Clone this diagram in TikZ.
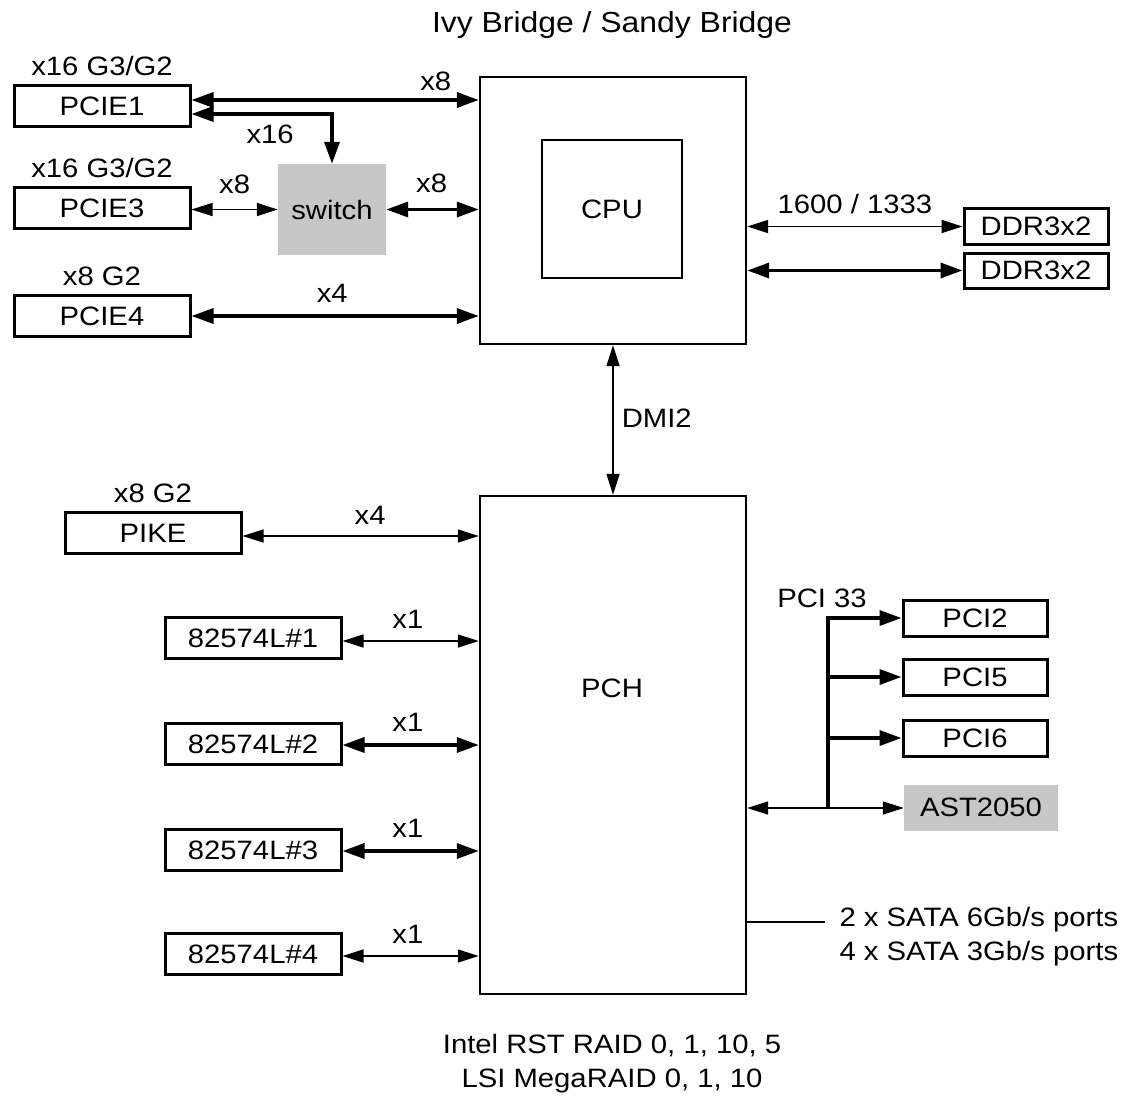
\documentclass[tikz,border=0pt]{standalone}
\usepackage{fontspec}
\setmainfont{Liberation Sans}[FakeStretch=1.1]
\usetikzlibrary{arrows.meta}

\begin{document}
\begin{tikzpicture}[x=1pt,y=-1pt,
  font=\fontsize{26.6}{34}\selectfont,
  chip/.style={draw,line width=2.4pt,inner sep=0pt},
  slot/.style={draw,line width=3pt,inner sep=0pt,minimum width=176pt,minimum height=41pt},
  dimm/.style={draw,line width=3pt,inner sep=0pt,minimum width=144pt,minimum height=36pt},
  greybox/.style={fill=LightGrey,inner sep=0pt},
  lab/.style={inner sep=0pt,text depth=0pt},
  fat/.style={line width=3.4pt,>={Triangle[length=22pt,width=15pt]}},
  slim/.style={line width=1.6pt,>={Triangle[length=21pt,width=13pt]}},
]
\useasboundingbox (0,0) rectangle (1129,1098);

%Title
\node[font=\fontsize{29}{34}\selectfont] (title) at (612,25) {Ivy Bridge / Sandy Bridge};

%Defining grey color
\colorlet{LightGrey}{black!22}

%CPU
\node[chip,minimum width=266pt,minimum height=267pt] (cpu) at (613,210.5) {};
\node[chip,line width=2pt,minimum width=140pt,minimum height=138pt] (core) at (612,209) {CPU};

%PCH
\node[chip,minimum width=266pt,minimum height=498pt] (pch) at (613,745) {};
\node (pchtxt) at (612,688) {PCH};

%PCIe slots
\node[slot] (pcie1) at (102,106) {PCIE1};
\node[slot] (pcie3) at (102,208) {PCIE3};
\node[slot] (pcie4) at (102,316) {PCIE4};
\node[lab,anchor=south] (pcie1lab) at ([yshift=8pt]pcie1.north) {x16 G3/G2};
\node[lab,anchor=south] (pcie3lab) at ([yshift=8pt]pcie3.north) {x16 G3/G2};
\node[lab,anchor=south] (pcie4lab) at ([yshift=8pt]pcie4.north) {x8 G2};
\node[greybox,minimum width=108pt,minimum height=91pt] (switch) at (332,209.5) {switch};

\draw[fat,<->] ([yshift=6pt]pcie1.east) -- ([yshift=6pt]pcie1.east -| cpu.west)
  node[lab,above=8pt,pos=.85] {x8};
\draw[fat,<->] ([yshift=-8pt]pcie1.east) -- node[lab,below=9pt,pos=.56] {x16}
  ([yshift=-8pt]pcie1.east -| switch.north) -- (switch.north);
\draw[slim,<->] (switch.west -| pcie3.east) -- (switch.west)
  node[lab,above=15pt,pos=.5] {x8};
\draw[fat,<->] (switch.east) -- (switch.east -| cpu.west)
  node[lab,above=15pt,pos=.49] {x8};
\draw[fat,<->] (pcie4.east) -- (pcie4.east -| cpu.west)
  node[lab,above=12pt,pos=.49] {x4};

%memory
\node[dimm] (ddr1) at (1036,226.5) {DDR3x2};
\node[dimm,minimum height=35pt] (ddr2) at (1036,270.5) {DDR3x2};
\draw[slim,<->] (ddr1.west -| cpu.east) -- (ddr1.west)
  node[lab,above=12pt,pos=.5] {1600 / 1333};
\draw[fat,<->] (ddr2.west -| cpu.east) -- (ddr2.west);

%DMI
\draw[slim,<->] (cpu.south) -- (pch.north) node[lab,right=8pt,pos=.49] {DMI2};

%PIKE and NICs
\node[slot] (pike) at (153,533) {PIKE};
\node[lab,anchor=south] (pikelab) at ([yshift=8pt]pike.north) {x8 G2};
\draw[slim,<->] ([yshift=-3pt]pike.east) -- ([yshift=-3pt]pike.east -| pch.west)
  node[lab,above=11pt,pos=.54] {x4};

\node[slot] (nic1) at (253,638) {82574L\#1};
\node[slot] (nic2) at (253,744) {82574L\#2};
\node[slot] (nic3) at (253,850) {82574L\#3};
\node[slot] (nic4) at (253,954) {82574L\#4};
\draw[slim,<->] ([yshift=-3pt]nic1.east) -- ([yshift=-3pt]nic1.east -| pch.west)
  node[lab,above=12pt,pos=.48] {x1};
\draw[fat,<->] ([yshift=-1pt]nic2.east) -- ([yshift=-1pt]nic2.east -| pch.west)
  node[lab,above=12pt,pos=.48] {x1};
\draw[fat,<->] ([yshift=-1pt]nic3.east) -- ([yshift=-1pt]nic3.east -| pch.west)
  node[lab,above=12pt,pos=.48] {x1};
\draw[slim,<->] ([yshift=-2pt]nic4.east) -- ([yshift=-2pt]nic4.east -| pch.west)
  node[lab,above=12pt,pos=.48] {x1};

%PCI bus
\node[dimm] (pci2) at (975,618) {PCI2};
\node[dimm] (pci5) at (975,677) {PCI5};
\node[dimm] (pci6) at (975,738) {PCI6};
\node[greybox,minimum width=154pt,minimum height=46pt] (ast) at (981,807.5) {AST2050};
\node (pci33) at (822,598) {PCI 33};
\coordinate (busbot) at (828,808);

\draw[slim,<->] (busbot -| pch.east) -- (busbot -| ast.west);
\draw[fat,->] (busbot) |- (pci2.west);
\draw[fat,->] (busbot |- pci5.west) -- (pci5.west);
\draw[fat,->] (busbot |- pci6.west) -- (pci6.west);

%SATA
\node[align=left,anchor=west] (sata) at (836,937) {2 x SATA 6Gb/s ports\\4 x SATA 3Gb/s ports};
\coordinate (sataend) at (825,922);
\draw[line width=2.2pt] (sataend -| pch.east) -- (sataend);

%RAID
\node[align=center] (raid) at (612,1064) {Intel RST RAID 0, 1, 10, 5\\LSI MegaRAID 0, 1, 10};

\end{tikzpicture}
\end{document}
